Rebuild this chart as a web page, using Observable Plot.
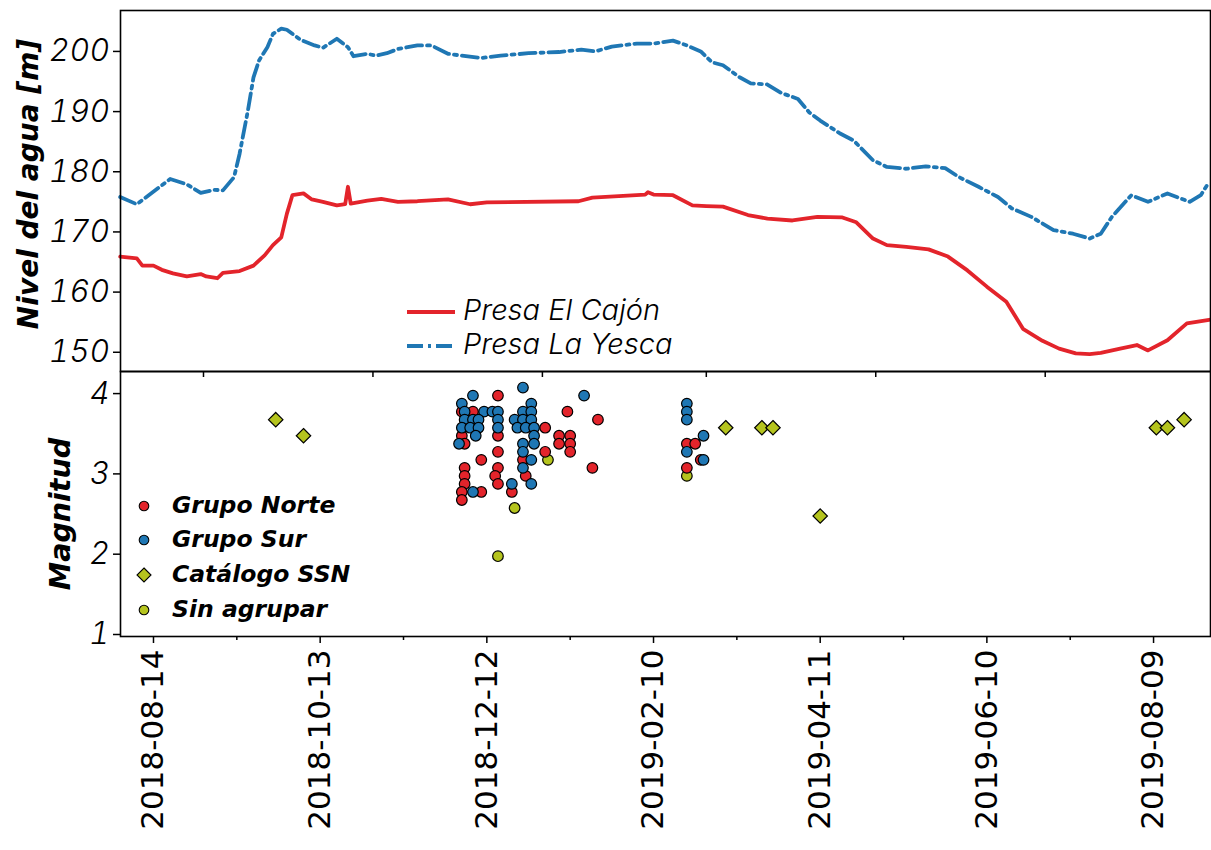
<!DOCTYPE html>
<html><head><meta charset="utf-8">
<script src="https://cdn.jsdelivr.net/npm/d3@7"></script>
<script src="https://cdn.jsdelivr.net/npm/@observablehq/plot@0.6"></script>
<style>
html,body{margin:0;padding:0;background:#fff;}
#wrap{position:relative;width:1211px;height:850px;overflow:hidden;font-family:Inter,sans-serif;color:#000;}
.abs{position:absolute;}
.row{position:absolute;display:flex;align-items:center;white-space:nowrap;}
.t1{font-family:Inter,sans-serif;font-style:italic;font-weight:300;font-size:29px;line-height:30px;}
.t2{font-family:"DejaVu Sans",sans-serif;font-style:italic;font-weight:700;font-size:23.5px;line-height:24px;}
</style></head>
<body>
<div id="wrap">
  <div id="top" class="abs" style="left:0;top:0"></div>
  <div id="bot" class="abs" style="left:0;top:370px"></div>
  <div id="legTop"></div>
  <div id="legBot"></div>
</div>
<script>
// ---------- data ----------
const cajonDates = ["2018-08-02","2018-08-08","2018-08-10","2018-08-14","2018-08-17","2018-08-21","2018-08-26","2018-08-31","2018-09-02","2018-09-06","2018-09-08","2018-09-14","2018-09-19","2018-09-23","2018-09-26","2018-09-29","2018-10-01","2018-10-03","2018-10-07","2018-10-10","2018-10-14","2018-10-19","2018-10-22","2018-10-23","2018-10-24","2018-10-30","2018-11-04","2018-11-10","2018-11-17","2018-11-28","2018-12-06","2018-12-12","2019-01-14","2019-01-19","2019-02-07","2019-02-08","2019-02-10","2019-02-17","2019-02-24","2019-03-01","2019-03-07","2019-03-16","2019-03-23","2019-04-01","2019-04-10","2019-04-19","2019-04-24","2019-04-30","2019-05-05","2019-05-12","2019-05-20","2019-05-27","2019-06-03","2019-06-10","2019-06-17","2019-06-23","2019-06-30","2019-07-06","2019-07-12","2019-07-17","2019-07-21","2019-07-28","2019-08-03","2019-08-07","2019-08-14","2019-08-21","2019-08-29"];
const cajonLevels = [166.9,166.6,165.4,165.4,164.7,164.1,163.6,164.0,163.6,163.3,164.2,164.5,165.4,167.1,168.8,170.1,174.0,177.1,177.4,176.4,176.0,175.4,175.6,178.5,175.7,176.2,176.5,176.0,176.1,176.4,175.6,175.9,176.1,176.7,177.2,177.6,177.2,177.1,175.4,175.3,175.2,173.8,173.2,172.9,173.5,173.4,172.6,169.9,168.8,168.5,168.1,166.9,164.6,161.9,159.4,154.9,152.9,151.6,150.8,150.7,150.9,151.6,152.2,151.3,153.0,155.8,156.4];

const yescaDates = ["2018-08-02","2018-08-08","2018-08-20","2018-08-26","2018-08-31","2018-09-05","2018-09-08","2018-09-12","2018-09-14","2018-09-17","2018-09-19","2018-09-21","2018-09-24","2018-09-26","2018-09-29","2018-10-01","2018-10-06","2018-10-11","2018-10-14","2018-10-19","2018-10-23","2018-10-25","2018-10-30","2018-11-02","2018-11-06","2018-11-10","2018-11-17","2018-11-22","2018-11-28","2018-12-03","2018-12-10","2018-12-17","2018-12-27","2019-01-07","2019-01-15","2019-01-20","2019-01-26","2019-02-04","2019-02-10","2019-02-17","2019-02-22","2019-02-27","2019-03-03","2019-03-07","2019-03-13","2019-03-17","2019-03-23","2019-03-28","2019-04-03","2019-04-07","2019-04-11","2019-04-18","2019-04-23","2019-04-30","2019-05-05","2019-05-12","2019-05-19","2019-05-26","2019-05-31","2019-06-07","2019-06-14","2019-06-19","2019-06-26","2019-07-04","2019-07-11","2019-07-17","2019-07-21","2019-07-25","2019-08-01","2019-08-07","2019-08-14","2019-08-22","2019-08-26","2019-08-29"];
const yescaLevels = [176.8,175.6,179.8,178.9,177.5,178.0,177.9,180.1,184.0,191.2,196.7,199.5,201.7,203.9,204.8,204.6,202.9,202.0,201.6,203.1,201.7,200.2,200.6,200.3,200.7,201.4,202.0,202.0,200.6,200.3,199.9,200.3,200.7,200.9,201.3,201.0,201.8,202.3,202.3,202.8,202.0,201.0,199.2,198.7,196.7,195.7,195.5,194.1,193.1,190.9,189.5,187.4,186.2,182.9,181.8,181.5,181.9,181.6,180.1,178.5,176.8,174.9,173.5,171.3,170.7,169.9,170.7,173.5,177.1,176.0,177.4,176.0,177.1,179.3];

const norteDates = ["2018-12-16","2018-12-03","2018-12-07","2019-01-10","2019-01-21","2019-01-02","2018-12-03","2018-12-16","2019-01-07","2019-01-11","2018-12-04","2019-01-07","2019-01-11","2019-02-22","2019-02-25","2018-12-16","2019-01-02","2019-01-11","2018-12-10","2018-12-25","2019-02-27","2018-12-04","2018-12-16","2019-01-19","2019-02-22","2018-12-04","2018-12-15","2018-12-26","2018-12-04","2018-12-16","2018-12-03","2018-12-10","2018-12-21","2018-12-03"];
const norteMags = [4.0,3.8,3.8,3.8,3.7,3.6,3.5,3.5,3.5,3.5,3.4,3.4,3.4,3.4,3.4,3.3,3.3,3.3,3.2,3.2,3.2,3.1,3.1,3.1,3.1,3.0,3.0,3.0,2.9,2.9,2.8,2.8,2.8,2.7];

const surDates = ["2018-12-25","2018-12-07","2019-01-16","2018-12-03","2018-12-28","2019-02-22","2018-12-04","2018-12-11","2018-12-14","2018-12-16","2018-12-25","2018-12-28","2019-02-22","2018-12-04","2018-12-07","2018-12-09","2018-12-16","2018-12-22","2018-12-25","2018-12-28","2019-02-22","2018-12-03","2018-12-06","2018-12-09","2018-12-16","2018-12-23","2018-12-26","2018-12-29","2018-12-08","2018-12-29","2019-02-28","2018-12-02","2018-12-25","2018-12-29","2019-02-22","2018-12-25","2018-12-28","2019-02-28","2018-12-25","2018-12-21","2018-12-28","2018-12-07"];
const surMags = [4.1,4.0,4.0,3.9,3.9,3.9,3.8,3.8,3.8,3.8,3.8,3.8,3.8,3.7,3.7,3.7,3.7,3.7,3.7,3.7,3.7,3.6,3.6,3.6,3.6,3.6,3.6,3.6,3.5,3.5,3.5,3.4,3.4,3.4,3.3,3.3,3.2,3.2,3.1,2.9,2.9,2.8];

const ssnDates = ["2018-09-27","2018-10-07","2019-03-08","2019-03-21","2019-03-25","2019-04-11","2019-08-10","2019-08-14","2019-08-20"];
const ssnMags = [3.7,3.5,3.6,3.6,3.6,2.5,3.6,3.6,3.7];

const sinDates = ["2019-01-03","2019-02-22","2018-12-22","2018-12-16"];
const sinMags = [3.2,3.0,2.6,2.0];

const levelTicks = [150,160,170,180,190,200];
const magTicks = [1,2,3,4];
const topTickDates = ["2018-09-01","2018-11-01","2019-01-01","2019-03-01","2019-05-01","2019-07-01"];
const majorTickDates = ["2018-08-14","2018-10-13","2018-12-12","2019-02-10","2019-04-11","2019-06-10","2019-08-09"];
const minorTickDates = ["2018-09-13","2018-11-12","2019-01-11","2019-03-12","2019-05-11","2019-07-10"];

const yLabelTop = "Nivel del agua [m]";
const yLabelBot = "Magnitud";
const lineSeries = ["Presa El Cajón","Presa La Yesca"];
const pointSeries = ["Grupo Norte","Grupo Sur","Catálogo SSN","Sin agrupar"];

// ---------- style ----------
const RED = "#e3242b", BLUE = "#1f77b4", GREEN = "#b5c41e";
const DASH = "16,5,3,5";
const FONT = "Inter, sans-serif";
const BOLD = "'DejaVu Sans', sans-serif";
const X_DOMAIN = [new Date("2018-08-02T03:00:00Z"), new Date("2019-08-29T12:00:00Z")];

const P = s => new Date(s + "T00:00:00Z");
const zipLine = (ds, vs) => ds.map((d, i) => ({date: P(d), value: vs[i]}));
const cajon = zipLine(cajonDates, cajonLevels);
const yesca = zipLine(yescaDates, yescaLevels);
const norte = zipLine(norteDates, norteMags);
const sur = zipLine(surDates, surMags);
const ssn = zipLine(ssnDates, ssnMags);
const sin = zipLine(sinDates, sinMags);

const topPlot = Plot.plot({
  width: 1211, height: 377,
  marginTop: 10, marginBottom: 6, marginLeft: 120, marginRight: 1,
  style: {background: "transparent", fontFamily: FONT, overflow: "visible"},
  x: {type: "utc", domain: X_DOMAIN},
  y: {domain: [147.8, 207.8]},
  marks: [
    Plot.line(yesca, {x: "date", y: "value", stroke: BLUE, strokeWidth: 3.8, strokeDasharray: DASH}),
    Plot.line(cajon, {x: "date", y: "value", stroke: RED, strokeWidth: 3.8}),
    Plot.frame({stroke: "black", strokeWidth: 1.6}),
    Plot.axisY({ticks: levelTicks, tickSize: 7, tickPadding: 4, strokeWidth: 1.5, fontSize: 31, fontStyle: "italic", fontWeight: 300, dy: -6, label: null}),
    Plot.axisX({ticks: topTickDates.map(P), tickSize: 6, strokeWidth: 1.5, tickFormat: () => "", label: null}),
    Plot.text([yLabelTop], {text: d => d, frameAnchor: "left", textAnchor: "middle", dx: -83, dy: -7, rotate: -90, lineAnchor: "bottom", fontFamily: BOLD, fontSize: 28, fontWeight: 700, fontStyle: "italic"})
  ]
});
document.getElementById("top").appendChild(topPlot);

const botPlot = Plot.plot({
  width: 1211, height: 480,
  marginTop: 1, marginBottom: 214, marginLeft: 120, marginRight: 1,
  style: {background: "transparent", fontFamily: FONT, overflow: "visible"},
  x: {type: "utc", domain: X_DOMAIN},
  y: {domain: [1, 4.3]},
  marks: [
    Plot.frame({stroke: "black", strokeWidth: 1.6}),
    Plot.axisY({ticks: magTicks, tickSize: 7, tickPadding: 4, strokeWidth: 1.5, fontSize: 31, fontStyle: "italic", fontWeight: 300, dy: -2, tickFormat: d => String(d), label: null}),
    Plot.axisX({ticks: minorTickDates.map(P), tickSize: 4, strokeWidth: 1.5, tickFormat: () => "", label: null}),
    Plot.axisX({ticks: majorTickDates.map(P), tickSize: 7, tickPadding: 6, strokeWidth: 1.5, tickRotate: -90, tickFormat: d3.utcFormat("%Y-%m-%d"), fontFamily: "'DejaVu Sans', sans-serif", fontSize: 31, fontWeight: 400, label: null}),
    Plot.dot(sin, {x: "date", y: "value", r: 5.3, fill: GREEN, stroke: "black", strokeWidth: 1.2}),
    Plot.dot(norte, {x: "date", y: "value", r: 5.3, fill: RED, stroke: "black", strokeWidth: 1.2}),
    Plot.dot(sur, {x: "date", y: "value", r: 5.3, fill: BLUE, stroke: "black", strokeWidth: 1.2}),
    Plot.dot(ssn, {x: "date", y: "value", symbol: "diamond2", r: 6.5, fill: GREEN, stroke: "black", strokeWidth: 1.2}),
    Plot.text([yLabelBot], {text: d => d, frameAnchor: "left", textAnchor: "middle", dx: -51, dy: 10, rotate: -90, lineAnchor: "bottom", fontFamily: BOLD, fontSize: 28.5, fontWeight: 700, fontStyle: "italic"})
  ]
});
document.getElementById("bot").appendChild(botPlot);

// ---------- legends ----------
const legTop = document.getElementById("legTop");
const topEntries = [
  {label: lineSeries[0], color: RED, dash: null, cy: 312},
  {label: lineSeries[1], color: BLUE, dash: DASH, cy: 346}
];
topEntries.forEach(e => {
  const row = document.createElement("div");
  row.className = "row";
  row.style.left = "406px";
  row.style.top = (e.cy - 15) + "px";
  row.style.height = "30px";
  row.innerHTML = `<svg width="50" height="10" style="display:block"><line x1="1" y1="5" x2="49" y2="5" stroke="${e.color}" stroke-width="3.8" ${e.dash ? `stroke-dasharray="${e.dash}"` : ""}/></svg><span class="t1" style="margin-left:7px;position:relative;top:-2px">${e.label}</span>`;
  legTop.appendChild(row);
});

const legBot = document.getElementById("legBot");
const botEntries = [
  {label: pointSeries[0], color: RED, shape: "circle", cy: 506},
  {label: pointSeries[1], color: BLUE, shape: "circle", cy: 540},
  {label: pointSeries[2], color: GREEN, shape: "diamond", cy: 575},
  {label: pointSeries[3], color: GREEN, shape: "circle", cy: 610}
];
botEntries.forEach(e => {
  const row = document.createElement("div");
  row.className = "row";
  row.style.left = "134px";
  row.style.top = (e.cy - 12) + "px";
  row.style.height = "24px";
  const mk = e.shape === "circle"
    ? `<circle cx="10" cy="10" r="4.8" fill="${e.color}" stroke="black" stroke-width="1.1"/>`
    : `<path d="M10,3 L17,10 L10,17 L3,10 Z" fill="${e.color}" stroke="black" stroke-width="1.1"/>`;
  row.innerHTML = `<svg width="20" height="20" style="display:block">${mk}</svg><span class="t2" style="margin-left:18px;position:relative;top:-1px">${e.label}</span>`;
  legBot.appendChild(row);
});
</script>
</body></html>
